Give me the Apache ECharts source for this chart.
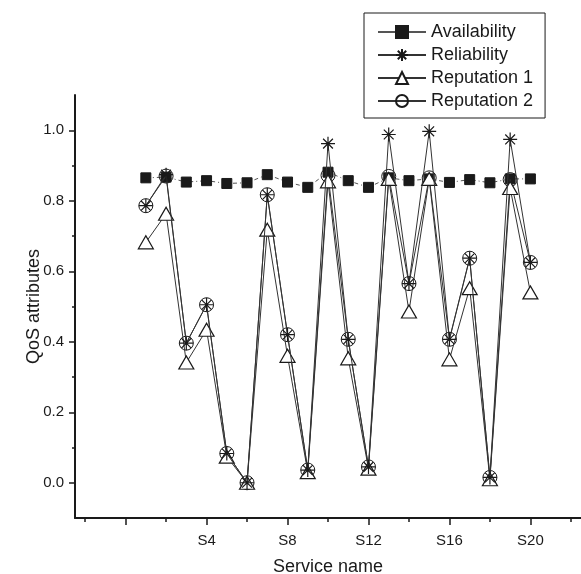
<!DOCTYPE html>
<html>
<head>
<meta charset="utf-8">
<script src="https://cdn.jsdelivr.net/npm/echarts@6/dist/echarts.min.js"></script>
<style>
  html, body { margin: 0; padding: 0; background: #fff; }
  #chart { width: 581px; height: 574px; }
</style>
</head>
<body>
<div id="chart"></div>
<script>
// service index S1..S20
const services = [1, 2, 3, 4, 5, 6, 7, 8, 9, 10, 11, 12, 13, 14, 15, 16, 17, 18, 19, 20];
const availability = [0.865, 0.867, 0.853, 0.857, 0.849, 0.851, 0.874, 0.853, 0.838, 0.881,
  0.857, 0.838, 0.865, 0.857, 0.862, 0.852, 0.86, 0.851, 0.862, 0.862];
const reliability = [0.786, 0.874, 0.396, 0.505, 0.083, 0.0, 0.817, 0.42, 0.036, 0.962,
  0.407, 0.045, 0.988, 0.565, 0.997, 0.407, 0.637, 0.015, 0.974, 0.625];
const reputation1 = [0.682, 0.763, 0.341, 0.434, 0.074, 0.0, 0.718, 0.36, 0.03, 0.855,
  0.353, 0.04, 0.862, 0.486, 0.862, 0.35, 0.552, 0.01, 0.836, 0.54];
const reputation2 = [0.786, 0.87, 0.396, 0.505, 0.083, 0.0, 0.817, 0.42, 0.036, 0.872,
  0.407, 0.045, 0.869, 0.565, 0.865, 0.407, 0.637, 0.015, 0.86, 0.625];

const xMajorTicks = [0, 4, 8, 12, 16, 20];
const xMinorTicks = [-2, 2, 6, 10, 14, 18, 22];
const xLabels = [4, 8, 12, 16, 20];
const yMajorTicks = [0, 0.2, 0.4, 0.6, 0.8, 1.0];
const yMinorTicks = [0.1, 0.3, 0.5, 0.7, 0.9];

const FONT = "'Liberation Sans', Arial, Helvetica, sans-serif";
const INK = "#1a1a1a";
const asterisk = "path://M0,-10L0,10M-10,0L10,0M-7,-7L7,7M-7,7L7,-7";

const pairs = (vals) => services.map((s, i) => [s, vals[i]]);

const myChart = echarts.init(document.getElementById("chart"));

const option = {
  animation: false,
  backgroundColor: "#fff",
  textStyle: { fontFamily: FONT },
  grid: { left: 75, right: 0, top: 95, bottom: 56, containLabel: false, outerBoundsMode: "none" },
  legend: {
    orient: "vertical",
    left: 364,
    top: 13,
    padding: [9, 12, 7, 13],
    itemGap: 3,
    itemWidth: 48,
    itemHeight: 15,
    borderColor: INK,
    borderWidth: 1,
    backgroundColor: "#fff",
    textStyle: { fontFamily: FONT, fontSize: 18, color: INK, lineHeight: 20 },
    data: [
      { name: "Availability", lineStyle: { type: "solid" } },
      { name: "Reliability" },
      { name: "Reputation 1" },
      { name: "Reputation 2" },
    ],
  },
  xAxis: [
    {
      type: "value",
      min: -2.5,
      max: 22.5,
      name: "Service name",
      nameLocation: "middle",
      nameGap: 40,
      nameMoveOverlap: false,
      nameTextStyle: { fontSize: 18, color: INK, fontFamily: FONT },
      axisLine: { show: true, onZero: false, lineStyle: { color: INK, width: 2 } },
      axisTick: { show: true, customValues: xMajorTicks, length: 7, lineStyle: { color: INK, width: 1.5 } },
      axisLabel: {
        customValues: xLabels,
        formatter: (v) => "S" + v,
        fontSize: 15,
        color: INK,
        margin: 15,
      },
      splitLine: { show: false },
    },
    {
      type: "value",
      min: -2.5,
      max: 22.5,
      position: "bottom",
      axisLine: { show: false, onZero: false },
      axisTick: { show: true, customValues: xMinorTicks, length: 4, lineStyle: { color: INK, width: 1.5 } },
      axisLabel: { show: false },
      splitLine: { show: false },
    },
  ],
  yAxis: [
    {
      type: "value",
      min: -0.1,
      max: 1.1,
      name: "QoS attributes",
      nameLocation: "middle",
      nameGap: 32,
      nameMoveOverlap: false,
      nameTextStyle: { fontSize: 18, color: INK, fontFamily: FONT },
      axisLine: { show: true, onZero: false, lineStyle: { color: INK, width: 2 } },
      axisTick: { show: true, customValues: yMajorTicks, length: 6, lineStyle: { color: INK, width: 1.5 } },
      axisLabel: {
        customValues: yMajorTicks,
        formatter: (v) => v.toFixed(1),
        fontSize: 15,
        color: INK,
        margin: 11,
      },
      splitLine: { show: false },
    },
    {
      type: "value",
      min: -0.1,
      max: 1.1,
      position: "left",
      axisLine: { show: false, onZero: false },
      axisTick: { show: true, customValues: yMinorTicks, length: 3, lineStyle: { color: INK, width: 1.5 } },
      axisLabel: { show: false },
      splitLine: { show: false },
    },
  ],
  series: [
    {
      name: "Availability",
      type: "line",
      data: pairs(availability),
      symbol: "rect",
      symbolSize: 10,
      lineStyle: { color: "#555", width: 1, type: [4, 3, 1, 3] },
      itemStyle: { color: INK, borderColor: INK, borderWidth: 1 },
      z: 2,
    },
    {
      name: "Reputation 2",
      type: "line",
      data: pairs(reputation2),
      symbol: "circle",
      symbolSize: 14,
      lineStyle: { color: "#333", width: 1 },
      itemStyle: { color: "rgba(255,255,255,0)", borderColor: INK, borderWidth: 1 },
      z: 3,
    },
    {
      name: "Reputation 1",
      type: "line",
      data: pairs(reputation1),
      symbol: "triangle",
      symbolSize: [15, 13],
      lineStyle: { color: "#333", width: 1 },
      itemStyle: { color: "#fff", borderColor: INK, borderWidth: 1.2 },
      z: 4,
    },
    {
      name: "Reliability",
      type: "line",
      data: pairs(reliability),
      symbol: asterisk,
      symbolSize: 14,
      lineStyle: { color: "#333", width: 1 },
      itemStyle: { color: "rgba(0,0,0,0)", borderColor: INK, borderWidth: 1.2 },
      z: 5,
    },
  ],
};

option && myChart.setOption(option);
</script>
</body>
</html>
